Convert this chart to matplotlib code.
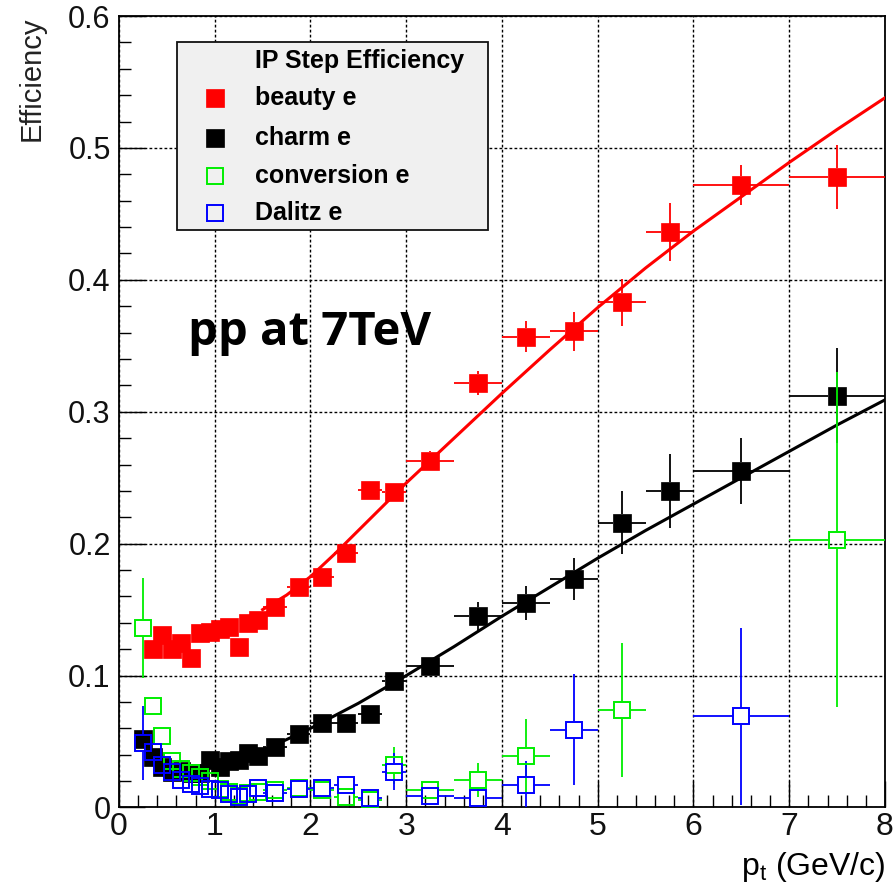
import numpy as np
import matplotlib
matplotlib.use("Agg")
import matplotlib.pyplot as plt
from matplotlib.patches import Rectangle

plt.rcParams['font.family'] = ['Liberation Sans', 'DejaVu Sans']
plt.rcParams['mathtext.fontset'] = 'custom'
plt.rcParams['mathtext.rm'] = 'Liberation Sans'

# pt binning (GeV/c)
pt_edges = np.array([0.2, 0.3, 0.4, 0.5, 0.6, 0.7, 0.8, 0.9, 1.0, 1.1, 1.2, 1.3, 1.4, 1.5,
                     1.75, 2.0, 2.25, 2.5, 2.75, 3.0, 3.5, 4.0, 4.5, 5.0, 5.5, 6.0, 7.0, 8.0])
nan = np.nan

# IP step efficiencies per bin
beauty = [nan, 0.120, 0.131, 0.120, 0.125, 0.113, 0.132, 0.133, 0.135, 0.137, 0.122, 0.140, 0.142,
          0.152, 0.167, 0.175, 0.193, 0.241, 0.239, 0.263, 0.322, 0.357, 0.361, 0.383, 0.436, 0.472, 0.478]
beauty_err = [nan, 0.003, 0.003, 0.003, 0.003, 0.003, 0.003, 0.003, 0.003, 0.003, 0.003, 0.003, 0.003,
              0.004, 0.004, 0.005, 0.005, 0.006, 0.007, 0.007, 0.009, 0.012, 0.015, 0.018, 0.022, 0.015, 0.024]

charm = [0.052, 0.038, 0.031, 0.027, 0.028, 0.026, 0.026, 0.036, 0.031, 0.035, 0.036, 0.041, 0.039,
         0.046, 0.056, 0.064, 0.064, 0.071, 0.096, 0.107, 0.145, 0.155, 0.173, 0.216, 0.240, 0.255, 0.312]
charm_err = [0.004, 0.003, 0.002, 0.002, 0.002, 0.002, 0.002, 0.002, 0.002, 0.002, 0.002, 0.002, 0.002,
             0.003, 0.003, 0.004, 0.004, 0.005, 0.006, 0.006, 0.011, 0.013, 0.016, 0.024, 0.028, 0.025, 0.036]

conversion = [0.136, 0.077, 0.054, 0.035, 0.029, 0.026, 0.023, 0.020, 0.014, 0.012, 0.009, 0.011, 0.012,
              0.013, 0.015, 0.013, 0.008, 0.006, 0.032, 0.013, 0.021, 0.039, nan, 0.074, nan, nan, 0.203]
conversion_err = [0.038, 0.006, 0.004, 0.003, 0.003, 0.003, 0.003, 0.003, 0.003, 0.003, 0.003, 0.003, 0.003,
                  0.004, 0.004, 0.004, 0.004, 0.004, 0.014, 0.005, 0.013, 0.028, nan, 0.051, nan, nan, 0.127]

dalitz = [0.049, 0.042, 0.032, 0.027, 0.021, 0.018, 0.016, 0.014, 0.013, 0.010, 0.008, 0.010, 0.015,
          0.011, 0.014, 0.015, 0.017, 0.007, 0.027, 0.009, 0.007, 0.017, 0.059, nan, nan, 0.069, nan]
dalitz_err = [0.028, 0.005, 0.004, 0.003, 0.003, 0.003, 0.003, 0.003, 0.003, 0.003, 0.003, 0.003, 0.003,
              0.004, 0.004, 0.004, 0.004, 0.004, 0.014, 0.004, 0.004, 0.018, 0.042, nan, nan, 0.067, nan]

# fit curves
beauty_fit_pt = [1.5, 1.75, 2.0, 2.25, 2.5, 2.75, 3.0, 3.5, 4.0, 4.5, 5.0, 5.5, 6.0, 6.5, 7.0, 7.5, 8.0]
beauty_fit = [0.150, 0.161, 0.175, 0.192, 0.210, 0.228, 0.246, 0.280, 0.314, 0.347, 0.379, 0.409,
              0.437, 0.463, 0.489, 0.514, 0.538]
charm_fit_pt = [1.5, 2.0, 2.5, 3.0, 3.5, 4.0, 4.5, 5.0, 5.5, 6.0, 6.5, 7.0, 7.5, 8.0]
charm_fit = [0.043, 0.060, 0.079, 0.100, 0.122, 0.145, 0.167, 0.189, 0.210, 0.230, 0.250, 0.270,
             0.290, 0.309]

pt = 0.5 * (pt_edges[:-1] + pt_edges[1:])
pt_halfwidth = 0.5 * (pt_edges[1:] - pt_edges[:-1])

DPI = 100
MS = 12.7  # marker size in points

fig = plt.figure(figsize=(8.96, 8.90), dpi=DPI)
ax = fig.add_axes([0.1328, 0.0927, 0.8549, 0.8893])
ax.set_xlim(0, 8)
ax.set_ylim(0, 0.6)

# data units covered by half a marker, so error bars stop at the marker edge
p0 = ax.transData.transform((0, 0))
p1 = ax.transData.transform((1, 1))
half_px = MS * DPI / 72.0 / 2.0
gap_x = half_px / (p1[0] - p0[0])
gap_y = half_px / (p1[1] - p0[1])


def draw_points(y, yerr, color, filled, z):
    y = np.asarray(y, dtype=float)
    yerr = np.asarray(yerr, dtype=float)
    ok = ~np.isnan(y)
    x, xe, y, ye = pt[ok], pt_halfwidth[ok], y[ok], yerr[ok]
    v = ye > gap_y
    ax.vlines(x[v], y[v] + gap_y, y[v] + ye[v], color=color, lw=1.3, zorder=z)
    ax.vlines(x[v], y[v] - ye[v], y[v] - gap_y, color=color, lw=1.3, zorder=z)
    h = xe > gap_x
    ax.hlines(y[h], x[h] + gap_x, x[h] + xe[h], color=color, lw=1.3, zorder=z)
    ax.hlines(y[h], x[h] - xe[h], x[h] - gap_x, color=color, lw=1.3, zorder=z)
    ax.plot(x, y, 's', ms=MS if filled else MS - 1, mfc=color if filled else 'none',
            mec=color, mew=0.5 if filled else 1.4, zorder=z + 0.1)


draw_points(beauty, beauty_err, '#ff0000', True, 3)
draw_points(charm, charm_err, 'black', True, 3)
draw_points(conversion, conversion_err, '#00ee00', False, 4)
draw_points(dalitz, dalitz_err, '#0000ff', False, 4)

ax.plot(beauty_fit_pt, beauty_fit, color='#ff0000', lw=2.2, zorder=3.5)
ax.plot(charm_fit_pt, charm_fit, color='black', lw=2.2, zorder=3.5)

# axes, ticks and grid
ax.set_xticks(np.arange(0, 9, 1))
ax.set_xticks(np.arange(0, 8.01, 0.2), minor=True)
ax.set_yticks(np.arange(0, 0.61, 0.1))
ax.set_yticks(np.arange(0, 0.601, 0.02), minor=True)
ax.set_xticklabels([str(i) for i in range(9)])
ax.set_yticklabels(['0', '0.1', '0.2', '0.3', '0.4', '0.5', '0.6'])
ax.tick_params(which='major', direction='in', length=19, width=1.0, top=False, right=False)
ax.tick_params(which='minor', direction='in', length=8.5, width=1.0, top=False, right=False)
ax.tick_params(axis='x', which='major', labelsize=23, pad=3, labelcolor='#111111')
ax.tick_params(axis='y', which='major', labelsize=22, pad=6, labelcolor='#111111')
for sp in ax.spines.values():
    sp.set_linewidth(1.3)
ax.grid(True, which='major', color='black', linestyle=(0, (2.0, 1.6)), linewidth=1.0, zorder=0.5)
ax.set_axisbelow(True)

ax.set_xlabel(r'p$_{\mathregular{t}}$ (GeV/c)', fontsize=23, loc='right', labelpad=6)
ax.set_ylabel('Efficiency', fontsize=21, loc='top', labelpad=16, color='#222222')

ax.text(0.72, 0.36, 'pp at 7TeV', fontsize=34, fontweight='bold', family='Open Sans',
        va='center', ha='left', zorder=6)

# legend box
ax.add_patch(Rectangle((0.0753, 0.7296), 0.406, 0.2379, transform=ax.transAxes,
                       facecolor='#f0f0f0', edgecolor='#111111', lw=1.3, zorder=7))
leg_rows = [0.9431, 0.8965, 0.8459, 0.7979, 0.7511]
ax.text(0.1775, leg_rows[0], 'IP Step Efficiency', transform=ax.transAxes, fontsize=18,
        fontweight='bold', va='center', ha='left', zorder=8)
entries = [('beauty e', '#ff0000', True), ('charm e', 'black', True),
           ('conversion e', '#00ee00', False), ('Dalitz e', '#0000ff', False)]
for (label, color, filled), yrow in zip(entries, leg_rows[1:]):
    ax.plot([0.1257], [yrow], 's', transform=ax.transAxes, ms=MS if filled else MS - 1,
            mfc=color if filled else 'none', mec=color, mew=0.5 if filled else 1.4,
            zorder=8, clip_on=False)
    ax.text(0.1775, yrow, label, transform=ax.transAxes, fontsize=18, fontweight='bold',
            va='center', ha='left', zorder=8)

fig.savefig('out.png', dpi=DPI)
